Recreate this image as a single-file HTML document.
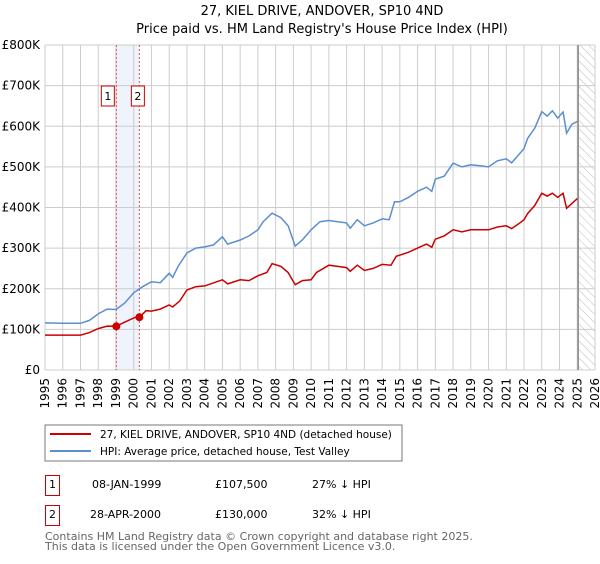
<!DOCTYPE html>
<html><head><meta charset="utf-8"><style>
body{margin:0;background:#fff;font-family:"DejaVu Sans","Liberation Sans",sans-serif;}
svg text{font-family:"DejaVu Sans","Liberation Sans",sans-serif;}
</style></head><body>
<svg id="c" width="600" height="560" viewBox="0 0 600 560">
<defs><pattern id="hatch" width="6" height="6" patternUnits="userSpaceOnUse" patternTransform="rotate(-45)"><line x1="0" y1="0" x2="0" y2="6" stroke="#bbb" stroke-width="1"/></pattern></defs>
<text x="322" y="15" text-anchor="middle" font-size="13" fill="#000">27, KIEL DRIVE, ANDOVER, SP10 4ND</text>
<text x="322" y="33" text-anchor="middle" font-size="13" fill="#000">Price paid vs. HM Land Registry's House Price Index (HPI)</text>
<g id="grid"></g><g id="marks"></g><g id="axes"></g>
<rect x="45" y="425" width="357" height="36" fill="#fff" stroke="#777"/>
<line x1="50" y1="434" x2="91" y2="434" stroke="#cc0000" stroke-width="2"/>
<text x="100" y="438" font-size="10.5">27, KIEL DRIVE, ANDOVER, SP10 4ND (detached house)</text>
<line x1="50" y1="451" x2="91" y2="451" stroke="#5b8fd0" stroke-width="2"/>
<text x="100" y="455" font-size="10.5">HPI: Average price, detached house, Test Valley</text>
<g>
<rect x="45.5" y="475.5" width="14" height="20" fill="none" stroke="#cc0000"/><text x="52.5" y="488" text-anchor="middle" font-size="11">1</text>
<text x="92" y="488" font-size="11">08-JAN-1999</text><text x="215" y="488" font-size="11">£107,500</text><text x="312" y="488" font-size="11">27% ↓ HPI</text></g>
<g>
<rect x="45.5" y="505.5" width="14" height="20" fill="none" stroke="#cc0000"/><text x="52.5" y="518" text-anchor="middle" font-size="11">2</text>
<text x="90" y="518" font-size="11">28-APR-2000</text><text x="215" y="518" font-size="11">£130,000</text><text x="312" y="518" font-size="11">32% ↓ HPI</text></g>
<text x="45" y="540" font-size="11" fill="#666">Contains HM Land Registry data © Crown copyright and database right 2025.</text>
<text x="45" y="550" font-size="11" fill="#666">This data is licensed under the Open Government Licence v3.0.</text>
</svg>
<script>
const yTicks=[0,100,200,300,400,500,600,700,800];
const yTickLabels=["£0","£100K","£200K","£300K","£400K","£500K","£600K","£700K","£800K"];
const xYears=[1995,1996,1997,1998,1999,2000,2001,2002,2003,2004,2005,2006,2007,2008,2009,2010,2011,2012,2013,2014,2015,2016,2017,2018,2019,2020,2021,2022,2023,2024,2025,2026];
const hpiT=[1995,1996,1997,1997.5,1998,1998.5,1999,1999.5,2000,2000.5,2001,2001.5,2002,2002.2,2002.5,2003,2003.5,2004,2004.5,2005,2005.3,2006,2006.5,2007,2007.3,2007.8,2008.3,2008.7,2009.1,2009.5,2010,2010.5,2011,2011.5,2012,2012.2,2012.6,2013,2013.5,2014,2014.4,2014.7,2015,2015.5,2016,2016.5,2016.8,2017,2017.5,2018,2018.5,2019,2019.5,2020,2020.5,2021,2021.3,2021.7,2022,2022.2,2022.6,2023,2023.3,2023.6,2023.9,2024.2,2024.4,2024.7,2025];
const hpiV=[116,115,115,122,138,150,149,165,190,205,217,215,238,228,255,288,300,303,308,328,310,320,330,345,365,386,375,355,305,320,345,365,368,365,362,349,370,355,362,372,370,414,414,425,440,450,440,470,477,509,500,505,503,500,515,520,510,530,545,570,595,636,625,638,620,635,583,605,612];
const redT=[1995,1997,1997.5,1998,1998.5,1999.02,1999.5,2000.2,2000.32,2000.7,2001,2001.5,2002,2002.2,2002.6,2003,2003.5,2004,2005,2005.3,2006,2006.5,2007,2007.5,2007.8,2008.3,2008.7,2009.1,2009.5,2010,2010.3,2011,2011.5,2012,2012.2,2012.6,2013,2013.5,2014,2014.5,2014.8,2015.5,2016,2016.5,2016.8,2017,2017.5,2018,2018.5,2019,2020,2020.5,2021,2021.3,2021.7,2022,2022.2,2022.6,2023,2023.3,2023.6,2023.9,2024.2,2024.4,2024.7,2025];
const redV=[86,86,92,102,108,107.5,118,132,130,146,145,150,160,155,170,197,205,207,222,212,222,220,232,240,262,255,240,210,220,222,240,258,255,252,243,258,245,250,260,258,280,290,300,310,302,322,330,345,340,345,345,352,355,348,360,370,385,405,435,428,435,425,435,398,410,422];
const saleT=[1999.02,2000.32];
const saleV=[107.5,130];
const saleLabels=["1","2"];
const X=t=>45+(t-1995)*(550/31);
const Y=v=>370-v*(325/800);
const NS="http://www.w3.org/2000/svg";
function mk(p,tag,at){const e=document.createElementNS(NS,tag);for(const k in at)e.setAttribute(k,at[k]);p.appendChild(e);return e;}
const grid=document.getElementById('grid'),marks=document.getElementById('marks'),axes=document.getElementById('axes');
const band=mk(grid,'rect',{x:X(saleT[0]),y:Y(800),width:X(saleT[1])-X(saleT[0]),height:Y(0)-Y(800),fill:'#eef3fc'});


const fut=mk(grid,'rect',{x:X(2025.05),y:Y(800),width:X(2026)-X(2025.05),height:Y(0)-Y(800),fill:'url(#hatch)'});


yTicks.forEach((v,i)=>{
 const l=mk(grid,'line',{x1:45,x2:595,y1:Y(v),y2:Y(v),stroke:'#ccc'});
 
 
 const t=mk(axes,'text',{x:40,y:Y(v)+4,'text-anchor':'end','font-size':12});
 t.textContent=yTickLabels[i];
 
 
});
xYears.forEach(yr=>{
 const l=mk(grid,'line',{x1:X(yr),x2:X(yr),y1:Y(800),y2:Y(0),stroke:'#ccc'});
 
 
 const t=mk(axes,'text',{x:0,y:0,'font-size':12,'text-anchor':'end',transform:`translate(${X(yr)+4},378) rotate(-90)`});
 t.textContent=yr;
 
 
});
const nowL=mk(grid,'line',{x1:X(2025.05),x2:X(2025.05),y1:Y(800),y2:Y(0),stroke:'#888','stroke-width':1.5});


saleT.forEach((t,i)=>{
 const l=mk(grid,'line',{x1:X(t),x2:X(t),y1:Y(800),y2:Y(0),stroke:'#e05050','stroke-dasharray':'2,2'});
 
 
 const bx=X(t)+(i==0?-9:-2);
 const r=mk(axes,'rect',{x:bx-6,y:86,width:13,height:20,fill:'#fff',stroke:'#cc0000'});
 
 
 const tx=mk(axes,'text',{x:bx+0.5,y:100,'text-anchor':'middle','font-size':11});
 tx.textContent=saleLabels[i];
 
 
});
const pts=(T,V)=>T.map((t,i)=>X(t).toFixed(1)+','+Y(V[i]).toFixed(1)).join(' ');
const hp=mk(marks,'polyline',{points:pts(hpiT,hpiV),fill:'none',stroke:'#5b8fd0','stroke-width':1.5});


const rp=mk(marks,'polyline',{points:pts(redT,redV),fill:'none',stroke:'#cc0000','stroke-width':1.5});


saleT.forEach((t,i)=>{
 const c=mk(marks,'circle',{cx:X(t),cy:Y(saleV[i]),r:4,fill:'#cc0000'});
 
 
});
</script>
</body></html>
